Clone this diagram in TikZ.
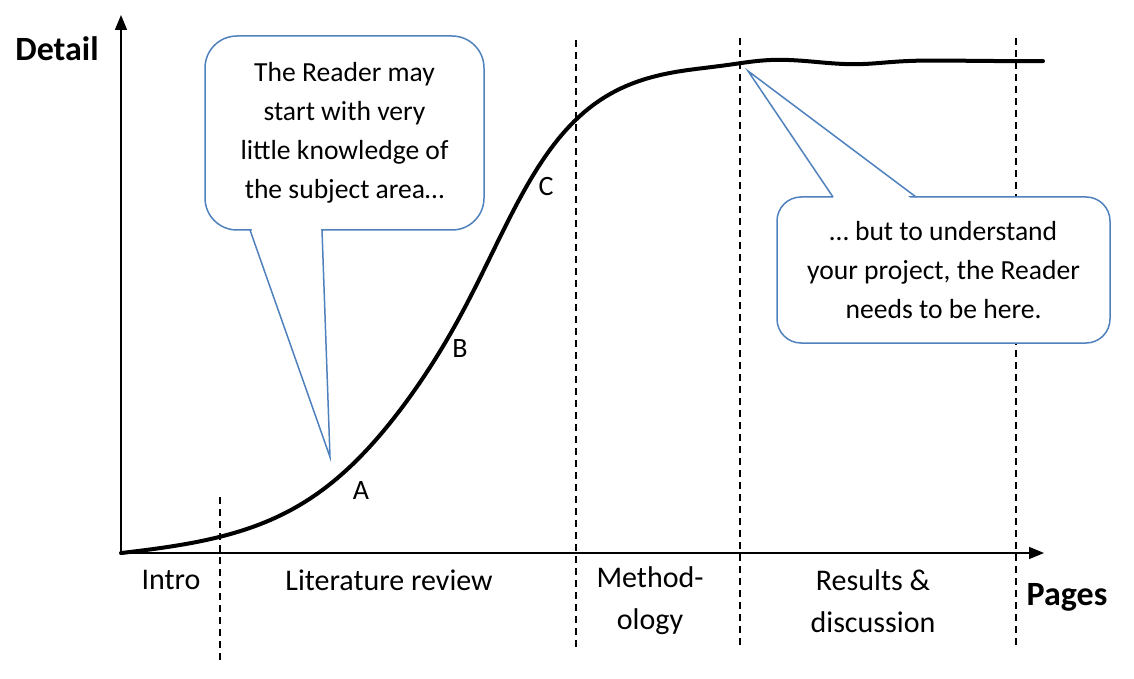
\documentclass[tikz,border=0pt]{standalone}
\usepackage{fontspec}
\setmainfont{Carlito}
\usepackage{tikz}
\usetikzlibrary{arrows.meta,positioning,calc}
\definecolor{callblue}{RGB}{79,129,189}

\begin{document}
\begin{tikzpicture}[x=0.5pt, y=-0.5pt,
  bubble/.style={draw=callblue, line width=0.75pt, fill=white,
    align=center, inner sep=0pt,
    font=\fontsize{13.8}{19.5}\selectfont},
  pointer/.style={draw=callblue, line width=0.75pt, line join=miter},
  axis/.style={-{Triangle[length=7.5pt,width=6pt]}, line width=0.75pt},
  divider/.style={dash pattern=on 3.5pt off 2.5pt, line width=0.6pt},
  phase/.style={align=center, font=\fontsize{15}{21}\selectfont},
  tag/.style={font=\fontsize{14}{16}\selectfont},
  axtitle/.style={font=\fontsize{17}{20}\selectfont\bfseries},
  curve/.style={line width=2pt, line cap=round, line join=round}
]
\useasboundingbox (0,0) rectangle (1134,679);

\draw[divider] (220,497) -- (220,660);
\draw[divider] (576,40) -- (576,648);
\draw[divider] (740,38) -- (740,648);
\draw[divider] (1016,38) -- (1016,645);

\coordinate (O) at (121,553);
\coordinate (ytop) at (121,15);
\coordinate (xend) at (1044,553);
\draw[axis] (O) -- (ytop);
\draw[axis] (O) -- (xend);

\node[axtitle] (detail) at (57,49) {Detail};
\node[axtitle] (pages) at (1067,597) {Pages};

\node[phase] (intro) at (171,580) {Intro};
\node[phase] (litrev) at (389,580) {Literature review};
\node[phase] (method) at (650,601) {Method-\\ology};
\node[phase] (results) at (873,601) {Results \&\\discussion};

\draw[curve] plot[domain=121:1043, samples=180]
  (\x, {553 - 492/(1+exp(-(\x-465)/(65-10*tanh((\x-465)/60))))
    + 5*exp(-(\x-121)/100)
    - 3*sin(2*(\x-725))/(1+(((\x-810)/90)*((\x-810)/90))^2)});

\node[tag] (ptA) at (361,491) {A};
\node[tag] (ptB) at (460,349) {B};
\node[tag] (ptC) at (546,187) {C};

\node[bubble, rounded corners=16pt, minimum width=139.5pt,
  minimum height=97pt] (start) at (344.5,133)
  {The Reader may\\start with very\\little knowledge of\\the subject area\ldots};
\coordinate (startTip) at (330,457);
\coordinate (startB1) at (250,230);
\coordinate (startB2) at (322,230);
\fill[white] ($(startB1)+(1,-3)$) -- (startTip) -- ($(startB2)+(-1,-3)$) -- cycle;
\draw[pointer] (startB1) -- (startTip) -- (startB2);

\node[bubble, rounded corners=12pt, minimum width=166.5pt,
  minimum height=73pt] (goal) at (943.5,270)
  {\ldots{} but to understand\\your project, the Reader\\needs to be here.};
\coordinate (goalTip) at (748,71);
\coordinate (goalB1) at (833,197);
\coordinate (goalB2) at (916,197);
\fill[white] ($(goalB1)+(2,3)$) -- (goalTip) -- ($(goalB2)+(-3,3)$) -- cycle;
\draw[pointer] (goalB1) -- (goalTip) -- (goalB2);
\end{tikzpicture}
\end{document}
